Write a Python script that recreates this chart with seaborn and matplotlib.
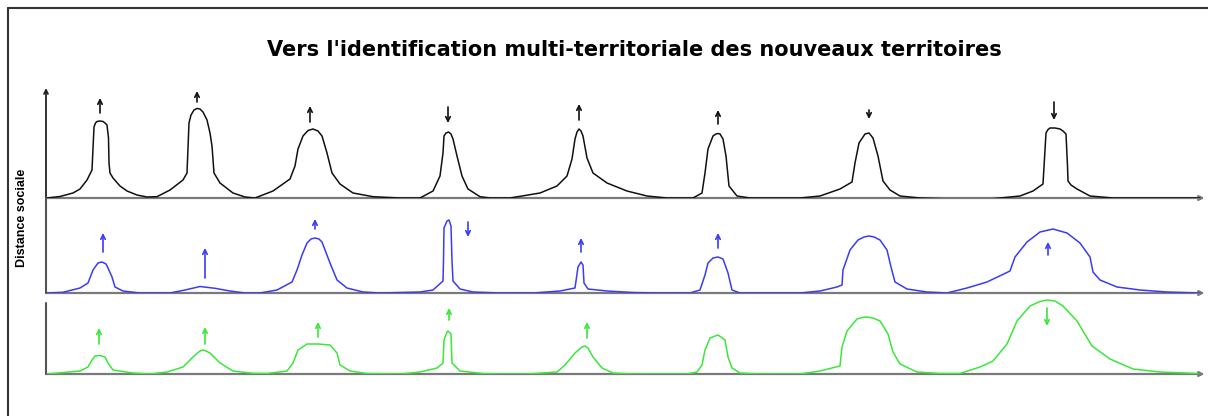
import numpy as np
import pandas as pd
import matplotlib
matplotlib.use("Agg")
import matplotlib.pyplot as plt
import seaborn as sns

# --- data: x position along the axis, height above baseline ---
black_x = [47, 60, 73, 80, 87, 92, 93, 94, 95.5, 97, 100, 103, 105, 107, 108.5, 109, 110, 113, 120, 127, 137, 147,
           157, 170, 183, 187, 188, 189, 191, 194, 197, 200, 203, 207, 210, 212, 214, 220, 233, 245, 255,
           273, 290, 295, 298, 303, 308, 313, 318, 322, 327, 332, 340, 353, 373, 400,
           420, 433, 440, 443, 444, 446, 448.5, 451, 453, 457, 462, 468, 480, 490,
           510, 540, 557, 567, 572, 575, 577, 579, 581, 583, 587, 593, 607, 627, 647, 667,
           693, 702, 705, 708, 713, 716, 718, 720, 723, 726, 729, 737, 750,
           800, 820, 840, 852, 855, 859, 865, 869, 873, 878, 883, 890, 900, 920,
           950, 990, 1020, 1033, 1043, 1045, 1046, 1048, 1050, 1055, 1060, 1063, 1066, 1067.5, 1068, 1071, 1077, 1090, 1113, 1200]
black_y = [0, 1.5, 5, 9, 18, 28, 50, 71, 75, 76.5, 77, 76.5, 75, 73, 60, 35, 25, 20, 12, 7, 3, 1,
           1.3, 8, 18, 25, 50, 75, 83, 88, 89.5, 89, 86, 78, 65, 52, 25, 15, 5, 1, 0,
           7, 19, 32, 49, 62, 67.5, 69, 67, 62, 45, 25, 14, 5, 1.3, 0,
           0, 7, 22, 45, 62, 65, 66, 64, 59, 42, 22, 9, 1.3, 0,
           0, 5, 12, 22, 39, 59, 66, 69, 67, 62, 40, 25, 15, 7, 2, 0,
           0, 5, 25, 49, 62, 64, 64.5, 64, 59, 42, 12, 2, 0,
           0, 2, 9, 16, 35, 55, 64, 65, 60, 42, 17, 8, 2, 0,
           -1, -1, 2, 7, 14, 49, 65, 68.5, 70, 70, 69, 67, 64, 32, 17, 13, 9, 2, 0, 0]

blue_x = [47, 63, 80, 88, 93, 98, 102, 106, 108, 112, 115, 123, 140,
          170, 185, 200, 215, 230, 245,
          260, 277, 292, 297, 302, 307, 311, 315, 319, 322, 330, 337, 347, 363, 380,
          420, 433, 443, 443.5, 444, 447, 449, 451, 452, 453, 460, 473, 500,
          533, 560, 575, 578, 581, 583, 584, 588, 607, 633, 657,
          690, 700, 705, 708, 713, 718, 723, 728, 732, 740,
          800, 820, 837, 842, 843, 850, 858, 864, 869, 874, 880, 887, 891, 895, 907, 927, 947,
          967, 987, 1010, 1015, 1027, 1040, 1053, 1067, 1080, 1090, 1093, 1100, 1117, 1140, 1167, 1200]
blue_y = [0, 0.7, 5, 10, 23, 30, 31, 29, 25, 16, 6, 2, 0,
          0, 3, 6.5, 4.7, 2, 0,
          0, 3, 11, 23, 38, 50, 54, 55, 54, 51, 30, 13, 5, 1, 0,
          1, 3, 12, 32, 65, 72, 73, 67, 32, 12, 4, 1, 0,
          0, 2, 5, 26, 31, 28, 10, 4, 2, 0.5, 0,
          0, 3, 18, 30, 35, 36, 34, 20, 3, 0,
          0, 2, 6, 8, 23, 43, 53, 56, 57, 56, 53, 43, 26, 11, 4, 1, 0,
          5, 11, 22, 36, 51, 61, 64, 60, 50, 36, 21, 13, 6, 3, 1, 0]

green_x = [47, 80, 88, 92, 95, 100, 105, 108, 113, 133, 150,
           167, 183, 193, 200, 203, 206, 210, 220, 233, 253, 267,
           287, 293, 298, 307, 318, 330, 337, 340, 350, 367, 400,
           420, 437, 443, 444, 447, 448, 451, 452, 460, 483, 500,
           527, 557, 565, 575, 582, 585, 588, 593, 602, 613, 633,
           687, 697, 702, 705, 710, 718, 725, 728, 732, 740, 760,
           800, 820, 840, 842, 847, 857, 862, 867, 873, 880, 888, 893, 900, 917, 940, 960,
           980, 993, 1007, 1017, 1030, 1040, 1047, 1055, 1063, 1077, 1092, 1110, 1133, 1160, 1198]
green_y = [0, 3, 7, 14, 18, 18.5, 17, 11, 4, 1, 0,
           2, 7, 17, 23, 24, 23, 21, 11, 3, 0.7, 0.5,
           3, 11, 24, 30, 30, 29, 21, 9, 3, 0.5, 0,
           2, 6, 11, 34, 42, 43, 40, 11, 3, 0.5, 0,
           0, 2, 9, 21, 27, 28, 26, 17, 6, 1, 0,
           0, 2, 9, 24, 36, 39, 34, 17, 6, 1, 0,
           0, 3, 8, 27, 43, 55, 56.5, 57, 56, 53, 40, 22, 10, 2, 0.5, 0.5,
           7, 13, 30, 53, 68, 72.5, 74, 73, 68, 53, 28, 15, 5, 2, 0.5]

# arrows: x, tail height, head height
black_arrows = [(100, 85, 100), (197, 96, 107), (310, 76, 92), (448, 91, 75),
                (579, 78, 94), (718, 74, 88), (869, 88, 79), (1054, 96, 78)]
blue_arrows = [(103, 41, 60), (205, 15, 45), (315, 64, 74), (468, 71, 56),
               (581, 41, 55), (718, 45, 60), (1048, 38, 51)]
green_arrows = [(99, 30, 46), (205, 30, 47), (318, 37, 52), (449, 54, 66),
                (587, 36, 52), (1047, 66, 48)]

title = "Vers l'identification multi-territoriale des nouveaux territoires"
ylabel = "Distance sociale"

sns.set_theme(style="white")
plt.rcParams['font.family'] = ['DejaVu Sans']

W, H = 1208, 416
fig = plt.figure(figsize=(W / 100, H / 100), dpi=100)
fig.patch.set_facecolor('white')


def px_axes(left, top, right, bottom):
    return fig.add_axes([left / W, 1 - bottom / H, (right - left) / W, (bottom - top) / H])


rows = [
    (black_x, black_y, black_arrows, '#111111', (88, 198), 110),
    (blue_x, blue_y, blue_arrows, '#3b3bf5', (198, 293), 95),
    (green_x, green_y, green_arrows, '#3ae83a', (294, 374), 80),
]

for i, (xs, ys, arrows, col, (top, bottom), ymax) in enumerate(rows):
    ax = px_axes(46, top, 1208, bottom)
    df = pd.DataFrame({'x': xs, 'y': ys})
    sns.lineplot(data=df, x='x', y='y', ax=ax, color=col, lw=1.1,
                 estimator=None, sort=False, zorder=4)
    ax.set_xlim(46, 1208)
    ax.set_ylim(0, ymax)
    ax.axis('off')
    # x baseline with arrow head
    ax.annotate('', xy=(0.997, 0), xytext=(0, 0), xycoords='axes fraction',
                arrowprops=dict(arrowstyle='->', color='#7a7a7a', lw=1.6,
                                shrinkA=0, shrinkB=0, mutation_scale=7), zorder=1)
    # left axis
    if i == 0:
        ax.annotate('', xy=(0, 1), xytext=(0, 0), xycoords='axes fraction',
                    arrowprops=dict(arrowstyle='->', color='#222222', lw=1.3,
                                    shrinkA=0, shrinkB=0, mutation_scale=7))
    else:
        top_frac = 71 / ymax if i == 2 else 1
        ax.plot([0, 0], [0, top_frac], transform=ax.transAxes, color='#555555',
                lw=1.5, clip_on=False)
    for (ax_x, tail, head) in arrows:
        ax.annotate('', xy=(ax_x, head), xytext=(ax_x, tail),
                    arrowprops=dict(arrowstyle='->', color=col, lw=1.2,
                                    shrinkA=0, shrinkB=0, mutation_scale=8))

# page frame (top and left edges)
fig.add_artist(plt.Line2D([8 / W, 1], [1 - 8 / H, 1 - 8 / H], transform=fig.transFigure,
                          color='#333333', lw=1.5))
fig.add_artist(plt.Line2D([8 / W, 8 / W], [0, 1 - 8 / H], transform=fig.transFigure,
                          color='#333333', lw=1.5))

fig.text(634 / W, 1 - 50 / H, title, ha='center', va='center',
         fontsize=15, fontweight='heavy', color='black')
fig.text(22 / W, 1 - 218 / H, ylabel, rotation=90, ha='center', va='center',
         fontsize=9, fontweight='bold', family=['Liberation Sans', 'DejaVu Sans'],
         color='black')

fig.savefig('out.png', dpi=100, facecolor='white')
